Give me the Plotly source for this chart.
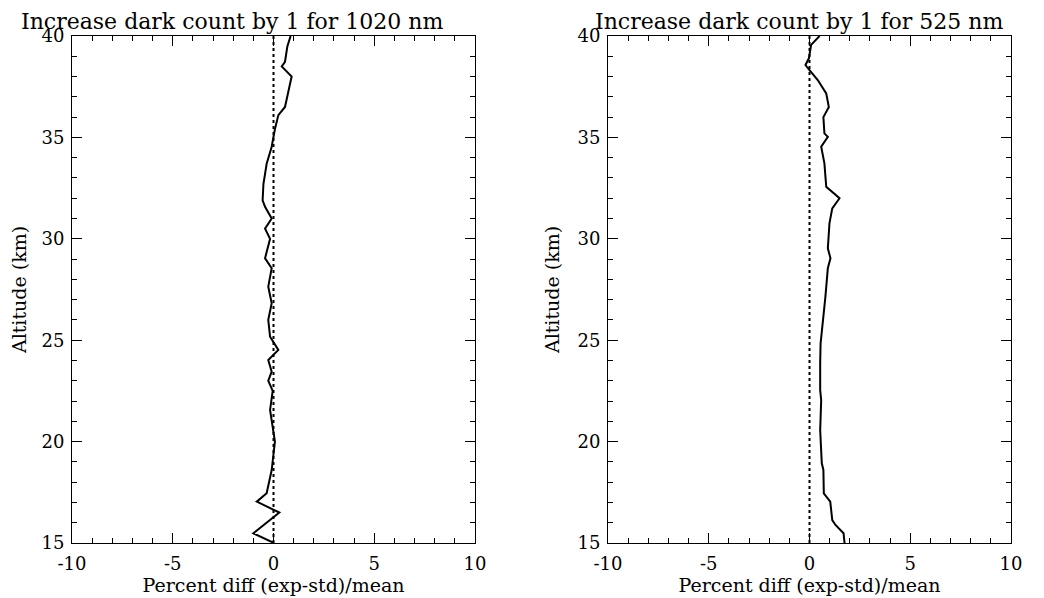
import plotly.graph_objects as go

# ---- data ----
alt_1020 = [40, 39.5, 38.73, 38.5, 38.0, 37.34, 36.5, 36.1, 35.4, 34.54, 33.7, 32.7, 31.9,
            31.58, 31.0, 30.5, 30.0, 29.04, 28.55, 27.64, 26.82, 26.0, 25.17, 24.52, 24.02,
            23.45, 23.0, 22.5, 21.56, 20.0, 18.6, 17.45, 17.04, 16.5, 15.48, 15.0]
diff_1020 = [0.85, 0.69, 0.57, 0.41, 0.90, 0.74, 0.57, 0.24, 0.07, -0.09, -0.34, -0.5, -0.54,
             -0.42, -0.09, -0.42, -0.17, -0.42, -0.09, -0.26, -0.09, -0.26, -0.17, 0.24, -0.26,
             -0.09, -0.26, -0.04, -0.17, 0.07, -0.09, -0.34, -0.83, 0.29, -1.0, 0.02]

alt_525 = [40, 39.56, 38.9, 38.57, 38.32, 37.83, 37.17, 36.5, 36.0, 35.2, 35.03, 34.54, 33.72,
           32.57, 32.0, 31.5, 30.76, 29.53, 29.04, 28.55, 27.15, 25.83, 24.84, 23.86, 22.54,
           22.05, 20.57, 18.93, 18.6, 17.45, 17.04, 16.13, 15.89, 15.48, 15.0]
diff_525 = [0.5, 0.08, -0.03, -0.2, 0.0, 0.41, 0.83, 0.96, 0.69, 0.74, 0.91, 0.58, 0.74,
            0.83, 1.49, 1.13, 0.99, 0.91, 1.04, 0.91, 0.79, 0.66, 0.55, 0.53, 0.53,
            0.58, 0.53, 0.61, 0.69, 0.71, 1.03, 1.13, 1.29, 1.69, 1.74]

zero_x = [0, 0]
alt_span = [15, 40]

titles = ["Increase dark count by 1 for 1020 nm", "Increase dark count by 1 for 525 nm"]
x_title = "Percent diff (exp-std)/mean"
y_title = "Altitude (km)"
x_range = [-10, 10]
y_range = [15, 40]
x_ticks = [-10, -5, 0, 5, 10]
y_ticks = [15, 20, 25, 30, 35, 40]

FONT = "DejaVu Serif"
W, H = 1036, 590   # page adds an 8px body margin
OFF = 8

def px_x(p):
    return (p - OFF) / W

def px_y(p):
    return 1 - (p - OFF) / H

fig = go.Figure()
for i, (xs, ys) in enumerate([(diff_1020, alt_1020), (diff_525, alt_525)]):
    xa = "x" if i == 0 else "x2"
    ya = "y" if i == 0 else "y2"
    fig.add_trace(go.Scatter(x=zero_x, y=alt_span, mode="lines", xaxis=xa, yaxis=ya,
                             line=dict(color="black", width=2, dash="dot"), showlegend=False))
    fig.add_trace(go.Scatter(x=xs, y=ys, mode="lines", xaxis=xa, yaxis=ya,
                             line=dict(color="black", width=2), showlegend=False))

def xaxis(domain, anchor):
    return dict(domain=domain, anchor=anchor, range=x_range, tickvals=x_ticks,
                ticktext=[str(v) for v in x_ticks], automargin=False,
                ticks="inside", ticklen=10, tickcolor="black", tickwidth=1,
                minor=dict(dtick=1, ticks="inside", ticklen=5, tickcolor="black", tickwidth=1),
                showline=True, linecolor="black", linewidth=1, mirror="ticks",
                showgrid=False, zeroline=False, ticklabelstandoff=4,
                tickfont=dict(family=FONT, size=18, color="black"),
                title=dict(text=x_title, font=dict(family=FONT, size=19, color="black"), standoff=0))

def yaxis(anchor):
    return dict(domain=[px_y(543), px_y(36)], anchor=anchor, range=y_range, tickvals=y_ticks,
                ticktext=[str(v) for v in y_ticks], automargin=False,
                ticks="inside", ticklen=10, tickcolor="black", tickwidth=1,
                minor=dict(dtick=1, ticks="inside", ticklen=5, tickcolor="black", tickwidth=1),
                showline=True, linecolor="black", linewidth=1, mirror="ticks",
                showgrid=False, zeroline=False, ticklabelstandoff=3,
                tickfont=dict(family=FONT, size=18, color="black"),
                title=dict(text=y_title, font=dict(family=FONT, size=19, color="black"), standoff=12))

fig.update_layout(
    width=W, height=H,
    margin=dict(l=0, r=0, t=0, b=0),
    plot_bgcolor="white", paper_bgcolor="white",
    xaxis=xaxis([px_x(72), px_x(475)], "y"),
    yaxis=yaxis("x"),
    xaxis2=xaxis([px_x(608), px_x(1011)], "y2"),
    yaxis2=yaxis("x2"),
    annotations=[
        dict(text=titles[0], x=px_x(232), y=1, xref="paper", yref="paper",
             showarrow=False, xanchor="center", yanchor="top", borderpad=0,
             font=dict(family=FONT, size=22, color="black")),
        dict(text=titles[1], x=px_x(799), y=1, xref="paper", yref="paper",
             showarrow=False, xanchor="center", yanchor="top", borderpad=0,
             font=dict(family=FONT, size=22, color="black")),
    ],
)

fig.write_html("out.html")
